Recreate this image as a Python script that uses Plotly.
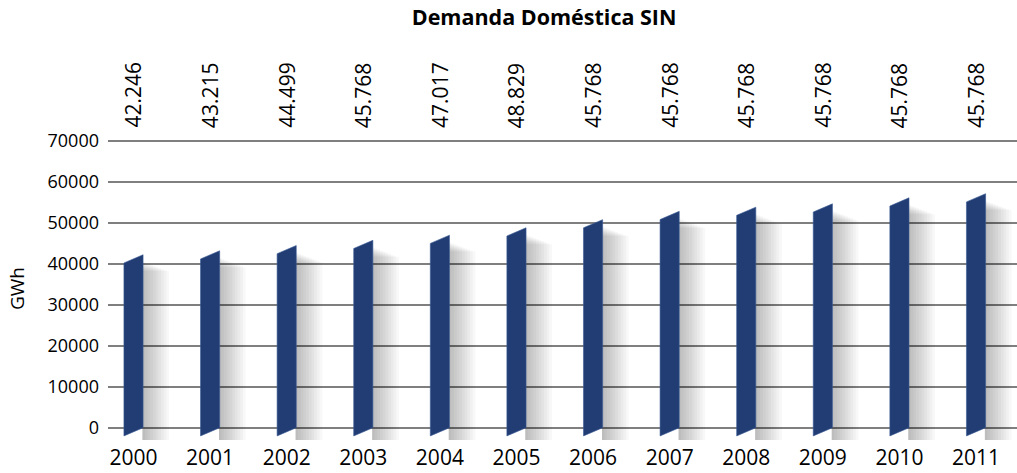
import plotly.graph_objects as go

years = ["2000", "2001", "2002", "2003", "2004", "2005", "2006", "2007", "2008", "2009", "2010", "2011"]
demand = [42246, 43215, 44499, 45768, 47017, 48829, 50815, 52851, 53870, 54679, 56148, 57150]
top_labels = ["42.246", "43.215", "44.499", "45.768", "47.017", "48.829",
              "45.768", "45.768", "45.768", "45.768", "45.768", "45.768"]
y_ticks = [0, 10000, 20000, 30000, 40000, 50000, 60000, 70000]
chart_title = "Demanda Doméstica SIN"

BAR_COLOR = "#213D73"
half_w = 0.125
skew = 2000
FONT = "Open Sans"

fig = go.Figure()

# soft shadows (layered translucent shapes to the right of each bar)
n_layers = 10
step = 0.035
for i, v in enumerate(demand):
    for k in range(1, n_layers + 1):
        x0 = i + half_w - 0.01
        x1 = x0 + k * step
        top = v - 1500 - k * 250
        fig.add_trace(go.Scatter(
            x=[x0, x1, x1, x0, x0],
            y=[-skew * 1.5, -skew * 1.5, top, top, -skew * 1.5],
            fill="toself", fillcolor="rgba(0,0,0,0.026)",
            line=dict(width=0), mode="lines", hoverinfo="skip", showlegend=False))

# skewed bars
for i, v in enumerate(demand):
    xl, xr = i - half_w, i + half_w
    fig.add_trace(go.Scatter(
        x=[xl, xr, xr, xl, xl],
        y=[-skew, 0, v, v - skew, -skew],
        fill="toself", fillcolor=BAR_COLOR,
        line=dict(width=0.6, color="#3a5a96"), mode="lines",
        hoverinfo="skip", showlegend=False))

for i, t in enumerate(top_labels):
    fig.add_annotation(x=i, xref="x", y=1.023, yref="paper", text=t, textangle=-90,
                       showarrow=False, xanchor="center", yanchor="bottom",
                       font=dict(family=FONT, size=21, color="#000000"))

fig.update_layout(
    width=1017, height=473,
    margin=dict(l=108, r=0, t=137, b=33),
    paper_bgcolor="white", plot_bgcolor="white",
    title=dict(text="<b>" + chart_title + "</b>", x=0.535, xanchor="center",
               y=0.962, yanchor="middle", font=dict(family=FONT, size=21.5, color="#000000")),
    xaxis=dict(range=[-0.333, 11.535], tickmode="array", tickvals=list(range(len(years))),
               ticktext=years, showgrid=False, zeroline=False, showline=False,
               tickfont=dict(family=FONT, size=21, color="#000000"), ticks="", ticklabelstandoff=3),
    yaxis=dict(range=[-3000, 71000], tickmode="array", tickvals=y_ticks,
               ticktext=[str(t) for t in y_ticks],
               showgrid=True, gridcolor="#7f7f7f", gridwidth=1.5,
               zeroline=True, zerolinecolor="#7f7f7f", zerolinewidth=1.5,
               showline=False, ticks="", ticklabelstandoff=8,
               tickfont=dict(family=FONT, size=18, color="#000000"),
               title=dict(text="GWh", font=dict(family=FONT, size=19, color="#000000"), standoff=17)),
)

fig.write_html("out.html", config={"displayModeBar": False},
               post_script="document.body.style.margin='0';")
